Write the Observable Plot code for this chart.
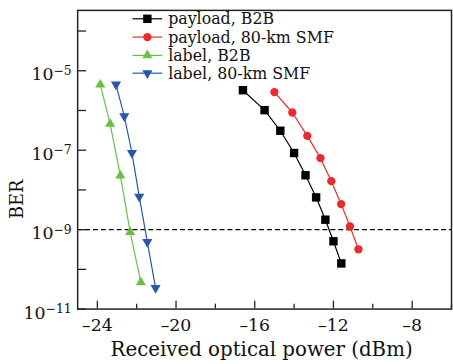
<!DOCTYPE html>
<html><head><meta charset="utf-8">
<script src="https://cdn.jsdelivr.net/npm/d3@7"></script>
<script src="https://cdn.jsdelivr.net/npm/@observablehq/plot@0.6"></script>
<style>
body{margin:0;background:#fff;}
#wrap{width:453px;height:364px;overflow:hidden;position:relative;}
</style></head>
<body><div id="wrap"></div>
<script>
const seriesNames = ["payload, B2B", "payload, 80-km SMF", "label, B2B", "label, 80-km SMF"];
const payloadB2B_x = [-16.6, -15.5, -14.7, -14.0, -13.42, -12.88, -12.41, -12.0, -11.6];
const payloadB2B_ber = [3.24e-6, 1.02e-6, 3.09e-7, 8.5e-8, 2.34e-8, 6.5e-9, 1.78e-9, 5.1e-10, 1.41e-10];
const payloadSMF_x = [-15.0, -14.09, -13.33, -12.66, -12.11, -11.61, -11.16, -10.73];
const payloadSMF_ber = [2.9e-6, 8.9e-7, 2.3e-7, 6.3e-8, 1.66e-8, 4.4e-9, 1.2e-9, 3.2e-10];
const labelB2B_x = [-23.85, -23.35, -22.83, -22.33, -21.79];
const labelB2B_ber = [4.5e-6, 4.6e-7, 2.3e-8, 8.7e-10, 4.7e-11];
const labelSMF_x = [-23.05, -22.63, -22.24, -21.87, -21.46, -21.04];
const labelSMF_ber = [4.5e-6, 7.2e-7, 8.5e-8, 6.8e-9, 4.9e-10, 3.4e-11];
const xTickLabels = [-24, -20, -16, -12, -8];
const xMinorTicks = [-22, -18, -14, -10, -6];
const yTickLabels = [1e-11, 1e-9, 1e-7, 1e-5];
const yMinorTicks = [1e-10, 1e-8, 1e-6, 1e-4];
const threshold = 1e-9;

const colors = ["#000000", "#ea2a2e", "#6abf45", "#2856ab"];

const triangleDown = {
  draw(context, size) {
    const y = -Math.sqrt(size / (Math.sqrt(3) * 3));
    context.moveTo(0, -y * 2);
    context.lineTo(-Math.sqrt(3) * y, y);
    context.lineTo(Math.sqrt(3) * y, y);
    context.closePath();
  }
};
const symbols = ["square", "circle", "triangle", triangleDown];
const d3symbols = [d3.symbolSquare, d3.symbolCircle, d3.symbolTriangle, triangleDown];
const radii = [4.8, 4.2, 3.8, 3.8];

const toRows = (xs, ys, s) => xs.map((x, i) => ({x, y: ys[i], s}));
const series = [
  toRows(payloadB2B_x, payloadB2B_ber, 0),
  toRows(payloadSMF_x, payloadSMF_ber, 1),
  toRows(labelB2B_x, labelB2B_ber, 2),
  toRows(labelSMF_x, labelSMF_ber, 3)
];

const W = 458, H = 364, mL = 78, mR = 2, mT = 10, mB = 52;
const pw = W - mL - mR, ph = H - mT - mB;
const font = "'DejaVu Serif', serif";

const marks = [
  Plot.ruleY([threshold], {stroke: "#000", strokeWidth: 1.1, strokeDasharray: "5,3"}),
  ...series.flatMap((d, i) => [
    Plot.line(d, {x: "x", y: "y", stroke: colors[i], strokeWidth: 1.2}),
    Plot.dot(d, {x: "x", y: "y", symbol: () => symbols[i], r: radii[i], fill: colors[i], stroke: "none"})
  ]),
  Plot.tickY([...yTickLabels, ...yMinorTicks], {y: d => d, insetRight: pw - 9, stroke: "#222", strokeWidth: 1.3}),
  Plot.tickX(xTickLabels, {x: d => d, insetTop: ph - 8, stroke: "#222", strokeWidth: 1.3}),
  Plot.tickX(xMinorTicks, {x: d => d, insetTop: ph - 5, stroke: "#222", strokeWidth: 1.3}),
  Plot.axisX({ticks: xTickLabels, tickSize: 0, tickPadding: 10, tickFormat: d => "\u2013" + Math.abs(d), fontSize: 17.5, label: null}),
  Plot.axisY({ticks: yTickLabels, tickSize: 0, tickPadding: 6, dy: 4, tickFormat: d => "10^" + Math.round(Math.log10(d)), fontSize: 17.5, label: null}),
  Plot.frame({stroke: "#222", strokeWidth: 1.5}),
  Plot.text(["BER"], {frameAnchor: "left", dx: -61, dy: 60, rotate: -90, fontSize: 18}),
  Plot.text(["Received optical power (dBm)"], {frameAnchor: "bottom", dx: -3, dy: 47, lineAnchor: "bottom", fontSize: 20})
];

const chart = Plot.plot({
  width: W, height: H,
  marginLeft: mL, marginRight: mR, marginTop: mT, marginBottom: mB,
  style: {fontFamily: font, color: "#111", background: "#fff"},
  x: {domain: [-25, -6]},
  y: {type: "log", domain: [1e-11, Math.pow(10, -3.48)]},
  marks
});

// superscript exponents on y tick labels
d3.select(chart).selectAll('[aria-label="y-axis tick label"] text').each(function() {
  const t = this.textContent;
  const [base, exp] = t.split("^");
  const sel = d3.select(this);
  sel.text(null);
  sel.append("tspan").text(base);
  sel.append("tspan").attr("dy", "-0.45em").attr("font-size", "12.5px").text("\u2212" + Math.abs(+exp));
});

// legend
const svg = d3.select(chart);
const lg = svg.append("g").attr("font-family", font).attr("font-size", 16).attr("text-anchor", "start");
const rowY = [19, 37.5, 56, 74];
seriesNames.forEach((name, i) => {
  const g = lg.append("g").attr("transform", `translate(0,${rowY[i]})`);
  g.append("line").attr("x1", 134).attr("x2", 164).attr("stroke", colors[i]).attr("stroke-width", 1.2);
  g.append("path").attr("transform", "translate(149,0)")
    .attr("d", d3.symbol(d3symbols[i], Math.PI * radii[i] * radii[i])())
    .attr("fill", colors[i]);
  g.append("text").attr("x", 170).attr("dy", "0.35em").attr("fill", "#111").text(name);
});

document.getElementById("wrap").appendChild(chart);
</script>
</body></html>
